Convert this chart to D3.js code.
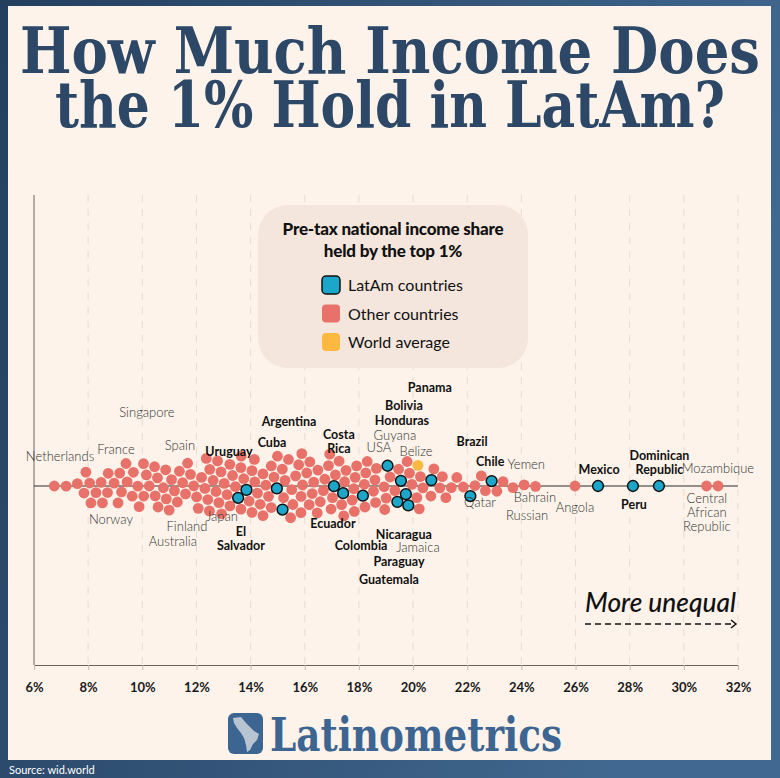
<!DOCTYPE html>
<html>
<head>
<meta charset="utf-8">
<script src="https://cdn.jsdelivr.net/npm/d3@7"></script>
<style>
  html, body { margin: 0; padding: 0; background: #2c4a6a; }
  svg { display: block; }
</style>
</head>
<body>
<svg id="chart" width="780" height="778"></svg>
<script>
// pre-tax national income share of the top 1%
const latamCountries = [
  { name: 'Uruguay', value: 13.2 },
  { name: 'El Salvador', value: 13.6 },
  { name: 'Cuba', value: 14.75 },
  { name: 'Argentina', value: 15.4 },
  { name: 'Colombia', value: 17.05 },
  { name: 'Costa Rica', value: 17.3 },
  { name: 'Ecuador', value: 18.1 },
  { name: 'Guatemala', value: 19.07 },
  { name: 'Paraguay', value: 19.48 },
  { name: 'Honduras', value: 19.55 },
  { name: 'Bolivia', value: 19.63 },
  { name: 'Nicaragua', value: 19.7 },
  { name: 'Panama', value: 20.55 },
  { name: 'Brazil', value: 22.14 },
  { name: 'Chile', value: 22.88 },
  { name: 'Mexico', value: 26.83 },
  { name: 'Peru', value: 28.12 },
  { name: 'Dominican Republic', value: 29.08 },
];

const worldAverage = 19.8;

const otherNamed = [
  { name: 'Netherlands', value: 6.75 },
  { name: 'Norway', value: 8.9 },
  { name: 'France', value: 9.6 },
  { name: 'Singapore', value: 10.2 },
  { name: 'Spain', value: 11.0 },
  { name: 'Australia', value: 11.2 },
  { name: 'Finland', value: 11.3 },
  { name: 'Japan', value: 12.8 },
  { name: 'USA', value: 19.2 },
  { name: 'Guyana', value: 19.9 },
  { name: 'Belize', value: 20.2 },
  { name: 'Jamaica', value: 20.4 },
  { name: 'Qatar', value: 22.3 },
  { name: 'Yemen', value: 23.3 },
  { name: 'Russian', value: 23.7 },
  { name: 'Bahrain', value: 24.1 },
  { name: 'Angola', value: 25.98 },
  { name: 'Mozambique', value: 30.85 },
  { name: 'Central African Republic', value: 31.25 },
];

const otherUnnamed = [
  7.2, 7.6, 7.85, 7.95,
  8.1, 8.2, 8.3, 8.45, 8.55, 8.7, 8.85,
  9.05, 9.15, 9.3, 9.4, 9.5, 9.7, 9.8, 9.95,
  10.05, 10.1, 10.3, 10.4, 10.5, 10.6, 10.7, 10.8, 10.9,
  11.05, 11.15, 11.4, 11.5, 11.6, 11.7, 11.8, 11.9,
  12.0, 12.1, 12.2, 12.3, 12.35, 12.45, 12.5, 12.55, 12.6, 12.7, 12.85, 12.95,
  13.0, 13.1, 13.15, 13.3, 13.4, 13.45, 13.55, 13.65, 13.7, 13.8, 13.85, 13.95,
  14.0, 14.1, 14.15, 14.25, 14.3, 14.4, 14.5, 14.55, 14.6, 14.65, 14.8, 14.9, 14.95,
  15.0, 15.1, 15.15, 15.25, 15.3, 15.45, 15.5, 15.55, 15.6, 15.7, 15.8, 15.85, 15.95,
  16.0, 16.05, 16.15, 16.2, 16.3, 16.35, 16.4, 16.45, 16.55, 16.6, 16.7, 16.8, 16.9, 16.95,
  17.1, 17.15, 17.2, 17.35, 17.4, 17.45, 17.55, 17.65, 17.75, 17.85, 17.95,
  18.0, 18.15, 18.2, 18.3, 18.4, 18.45, 18.5, 18.6, 18.7, 18.8, 18.9,
  19.0, 19.15, 19.35, 19.85,
  20.0, 20.1, 20.3, 20.6, 20.75, 20.9,
  21.0, 21.2, 21.4, 21.6, 21.85,
  22.5, 22.7,
  23.1,
  24.5,
];

const tickValues = [6, 8, 10, 12, 14, 16, 18, 20, 22, 24, 26, 28, 30, 32];

const legendItems = ['LatAm countries', 'Other countries', 'World average'];

// annotation placement: "at" is in axis units, dy in px from the swarm line
const labels = [
  { lines: ['Uruguay'], at: 13.2, dy: -30, bold: true },
  { lines: ['Cuba'], at: 14.79, dy: -39, bold: true },
  { lines: ['Argentina'], at: 15.42, dy: -60, bold: true },
  { lines: ['Costa', 'Rica'], at: 17.26, dy: -47, bold: true },
  { lines: ['El', 'Salvador'], at: 13.64, dy: 50, bold: true },
  { lines: ['Ecuador'], at: 17.04, dy: 42, bold: true },
  { lines: ['Panama'], at: 20.62, dy: -94, bold: true },
  { lines: ['Bolivia'], at: 19.66, dy: -76, bold: true },
  { lines: ['Honduras'], at: 19.59, dy: -61, bold: true },
  { lines: ['Brazil'], at: 22.18, dy: -40, bold: true },
  { lines: ['Chile'], at: 22.85, dy: -20, bold: true },
  { lines: ['Nicaragua'], at: 19.66, dy: 53, bold: true },
  { lines: ['Colombia'], at: 18.08, dy: 64, bold: true },
  { lines: ['Paraguay'], at: 19.48, dy: 80, bold: true },
  { lines: ['Guatemala'], at: 19.11, dy: 98, bold: true },
  { lines: ['Mexico'], at: 26.87, dy: -12, bold: true },
  { lines: ['Peru'], at: 28.16, dy: 23, bold: true },
  { lines: ['Dominican', 'Republic'], at: 29.1, dy: -26, bold: true },
  { lines: ['Netherlands'], at: 6.96, dy: -25 },
  { lines: ['France'], at: 9.03, dy: -32 },
  { lines: ['Singapore'], at: 10.17, dy: -69 },
  { lines: ['Spain'], at: 11.39, dy: -36 },
  { lines: ['Norway'], at: 8.84, dy: 38 },
  { lines: ['Finland'], at: 11.65, dy: 45 },
  { lines: ['Australia'], at: 11.13, dy: 60 },
  { lines: ['Japan'], at: 12.94, dy: 35 },
  { lines: ['Guyana'], at: 19.33, dy: -46 },
  { lines: ['USA'], at: 18.74, dy: -34 },
  { lines: ['Belize'], at: 20.11, dy: -30 },
  { lines: ['Jamaica'], at: 20.18, dy: 66 },
  { lines: ['Yemen'], at: 24.18, dy: -17 },
  { lines: ['Qatar'], at: 22.47, dy: 21 },
  { lines: ['Bahrain'], at: 24.5, dy: 16 },
  { lines: ['Russian'], at: 24.21, dy: 34 },
  { lines: ['Angola'], at: 25.98, dy: 26 },
  { lines: ['Mozambique'], at: 31.26, dy: -13 },
  { lines: ['Central', 'African', 'Republic'], at: 30.85, dy: 17 },
];

const colors = {
  latam: '#1ca6ca',
  other: '#e8726a',
  world: '#fdb83f',
};

const W = 780;
const H = 778;
const svg = d3.select('#chart');

// frame
const defs = svg.append('defs');
const grad = defs.append('linearGradient').attr('id', 'frame').attr('x1', 0).attr('x2', 1).attr('y1', 0).attr('y2', 0.3);
grad.append('stop').attr('offset', 0).attr('stop-color', '#243f5e');
grad.append('stop').attr('offset', 1).attr('stop-color', '#416890');
svg.append('rect').attr('width', W).attr('height', H).attr('fill', 'url(#frame)');
svg.append('rect').attr('x', 8).attr('y', 6).attr('width', 763).attr('height', 754).attr('fill', '#fdf3ea');

// title
const titleLines = ['How Much Income Does', 'the 1% Hold in LatAm?'];
const titleWidths = [740, 670];
svg.append('g').selectAll('text')
  .data(titleLines)
  .join('text')
  .attr('x', 390)
  .attr('y', (d, i) => 73 + i * 54)
  .attr('text-anchor', 'middle')
  .attr('textLength', (d, i) => titleWidths[i])
  .attr('lengthAdjust', 'spacingAndGlyphs')
  .style('font-family', '"DejaVu Serif Condensed", "DejaVu Serif", serif')
  .style('font-weight', 'bold')
  .style('font-size', '64px')
  .attr('fill', '#2c4866')
  .text(d => d);

// scales
const cy = 486;
const x = d3.scaleLinear().domain([6, 32]).range([34, 738]);
const plotTop = 195;
const plotBottom = 665;

// grid
svg.append('g').selectAll('line')
  .data(tickValues.slice(1))
  .join('line')
  .attr('x1', d => x(d))
  .attr('x2', d => x(d))
  .attr('y1', plotTop)
  .attr('y2', plotBottom)
  .attr('stroke', '#ecd9cf')
  .attr('stroke-dasharray', '7,7');

// legend
const legend = svg.append('g');
legend.append('rect')
  .attr('x', 258).attr('y', 205).attr('width', 270).attr('height', 163)
  .attr('rx', 30).attr('fill', '#f4e6dc');
legend.selectAll('text.lt')
  .data(['Pre-tax national income share', 'held by the top 1%'])
  .join('text')
  .attr('class', 'lt')
  .attr('x', 393)
  .attr('y', (d, i) => 235 + i * 22)
  .attr('text-anchor', 'middle')
  .style('font-family', 'Lato, sans-serif')
  .style('font-weight', 900)
  .style('font-size', '17px')
  .style('letter-spacing', '-0.2px')
  .attr('fill', '#111')
  .text(d => d);
const legendColors = [colors.latam, colors.other, colors.world];
const item = legend.selectAll('g.item')
  .data(legendItems)
  .join('g')
  .attr('class', 'item')
  .attr('transform', (d, i) => `translate(322, ${276 + i * 28.5})`);
item.append('rect')
  .attr('width', 18).attr('height', 18).attr('rx', 4)
  .attr('fill', (d, i) => legendColors[i])
  .attr('stroke', (d, i) => (i === 0 ? '#111' : 'none'))
  .attr('stroke-width', 1.5);
item.append('text')
  .attr('x', 26).attr('y', 15)
  .style('font-family', 'Lato, sans-serif')
  .style('font-size', '16px')
  .attr('fill', '#111')
  .text(d => d);

// axes
svg.append('line')
  .attr('x1', x(6)).attr('x2', x(6))
  .attr('y1', plotTop).attr('y2', plotBottom)
  .attr('stroke', '#6e625b');

const xAxis = svg.append('g')
  .attr('transform', `translate(0, ${plotBottom})`)
  .call(d3.axisBottom(x).tickValues(tickValues).tickSize(5).tickFormat(d => `${d}%`));
xAxis.select('.domain').attr('stroke', '#6e625b');
xAxis.selectAll('.tick line').attr('stroke', '#c9b8ad');
xAxis.selectAll('.tick text')
  .attr('dy', '1.45em')
  .style('font-family', 'Lato, sans-serif')
  .style('font-weight', 'bold')
  .style('font-size', '13px')
  .attr('fill', '#1a1a1a');

// swarm baseline
svg.append('line')
  .attr('x1', x(6)).attr('x2', x(32))
  .attr('y1', cy).attr('y2', cy)
  .attr('stroke', '#2a2a2a');

// nodes
const nodes = [
  ...otherNamed.map(d => ({ ...d, kind: 'other' })),
  ...otherUnnamed.map(v => ({ name: '', value: v, kind: 'other' })),
  { name: 'World average', value: worldAverage, kind: 'world' },
  ...latamCountries.map(d => ({ ...d, kind: 'latam' })),
];
nodes.forEach((d) => {
  d.x = x(d.value);
  d.y = cy;
});

// a looser pull on x lets the dots settle into a tight hex pack
const r = 5.4;
const simulation = d3.forceSimulation(nodes)
  .force('x', d3.forceX(d => x(d.value)).strength(0.35))
  .force('y', d3.forceY(cy).strength(0.07))
  .force('collide', d3.forceCollide(r + 0.35).iterations(4))
  .stop();
for (let i = 0; i < 600; i++) simulation.tick();

svg.append('g').selectAll('circle')
  .data(nodes)
  .join('circle')
  .attr('cx', d => d.x)
  .attr('cy', d => d.y)
  .attr('r', r)
  .attr('fill', d => colors[d.kind])
  .attr('stroke', d => (d.kind === 'latam' ? '#111' : 'none'))
  .attr('stroke-width', 1.5);

// country labels
const labelG = svg.append('g');
labels.forEach((l) => {
  const t = labelG.append('text')
    .attr('x', x(l.at))
    .attr('y', cy + l.dy)
    .attr('text-anchor', 'middle')
    .style('font-family', 'Lato, sans-serif')
    .style('font-weight', l.bold ? 'bold' : 300)
    .style('font-size', l.bold ? '12.5px' : '13px')
    .attr('fill', l.bold ? '#111' : '#333');
  l.lines.forEach((line, i) => {
    t.append('tspan')
      .attr('x', x(l.at))
      .attr('dy', i === 0 ? 0 : 14)
      .text(line);
  });
});

// "more unequal" note
svg.append('text')
  .attr('x', 736).attr('y', 612)
  .attr('text-anchor', 'end')
  .attr('textLength', 151)
  .attr('lengthAdjust', 'spacingAndGlyphs')
  .style('font-family', 'Lato, sans-serif')
  .style('font-style', 'italic')
  .style('font-weight', 500)
  .style('font-size', '26px')
  .attr('fill', '#111')
  .text('More unequal');
svg.append('line')
  .attr('x1', 585).attr('x2', 735)
  .attr('y1', 624).attr('y2', 624)
  .attr('stroke', '#111').attr('stroke-width', 1.5)
  .attr('stroke-dasharray', '6,4');
svg.append('path')
  .attr('d', 'M731,620 L736,624 L731,628')
  .attr('fill', 'none').attr('stroke', '#111').attr('stroke-width', 1.5);

// logo
const logo = svg.append('g');
logo.append('rect')
  .attr('x', 228).attr('y', 713).attr('width', 35).attr('height', 41)
  .attr('rx', 6).attr('fill', '#3d6591');
logo.append('path')
  .attr('d', 'M233,718 L241,717 L246,723 L250,727 L254,731 L259,734 L257,740 L253,744 L250,750 L247,752 L246,745 L244,738 L241,733 L237,728 L234,723 Z')
  .attr('fill', '#b9c4d2');
logo.append('text')
  .attr('x', 270).attr('y', 751)
  .attr('textLength', 292)
  .attr('lengthAdjust', 'spacingAndGlyphs')
  .style('font-family', '"DejaVu Serif Condensed", "DejaVu Serif", serif')
  .style('font-weight', 'bold')
  .style('font-size', '46px')
  .attr('fill', '#3d6591')
  .text('Latinometrics');

// source
svg.append('text')
  .attr('x', 9).attr('y', 774)
  .style('font-family', 'Lato, sans-serif')
  .style('font-size', '11px')
  .attr('fill', '#fff')
  .text('Source: wid.world');
</script>
</body>
</html>
